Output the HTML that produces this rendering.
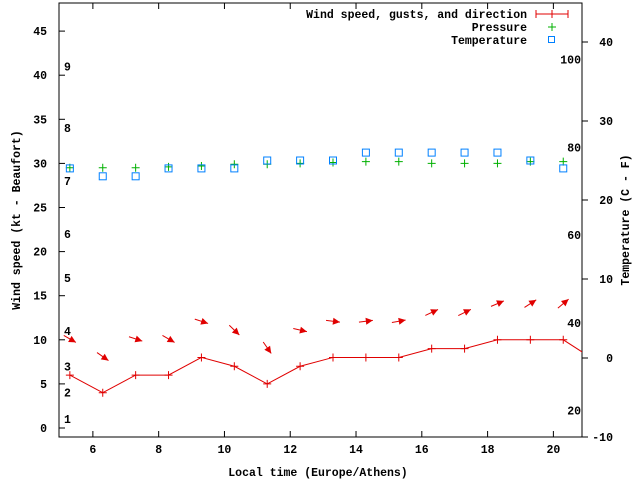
<!DOCTYPE html>
<html><head><meta charset="utf-8"><style>
body{margin:0;background:#fff}
svg{display:block}
text{font-family:"Liberation Mono",monospace;font-size:11.5px;font-weight:bold;fill:#000}
</style></head><body>
<svg id="chart" width="640" height="480" xmlns="http://www.w3.org/2000/svg">
<rect x="0" y="0" width="640" height="480" fill="#fff"/>
<g id="axes"></g>
<g id="marks"></g>
<g>
<text x="527" y="18" text-anchor="end">Wind speed, gusts, and direction</text>
<g stroke="#e00000" stroke-width="1"><line x1="536" y1="14" x2="568" y2="14"/><line x1="536" y1="10" x2="536" y2="18"/><line x1="568" y1="10" x2="568" y2="18"/><line x1="552" y1="10" x2="552" y2="18"/></g>
<text x="527" y="31" text-anchor="end">Pressure</text>
<g stroke="#00b000"><line x1="548" y1="27" x2="556" y2="27"/><line x1="552" y1="23" x2="552" y2="31"/></g>
<text x="527" y="44" text-anchor="end">Temperature</text>
<rect x="548.5" y="36.5" width="6" height="6" fill="none" stroke="#0080ff"/>
</g>
<text transform="translate(20,220) rotate(-90)" text-anchor="middle">Wind speed (kt - Beaufort)</text>
<text transform="translate(629,220) rotate(-90)" text-anchor="middle">Temperature (C - F)</text>
<text x="318" y="476" text-anchor="middle">Local time (Europe/Athens)</text>
</svg>
<script>
const hours=[5.3,6.3,7.3,8.3,9.3,10.3,11.3,12.3,13.3,14.3,15.3,16.3,17.3,18.3,19.3,20.3,21.3];
const windSpeed=[6,4,6,6,8,7,5,7,8,8,8,9,9,10,10,10,7.6];
const windDir=[300,305,288,300,288,314,325,283,277,263,260,245,244,247,237,230];
const pressure=[29.5,29.5,29.5,29.6,29.7,29.9,29.9,30.0,30.1,30.2,30.2,30.0,30.0,30.0,30.2,30.2];
const tempC=[24,23,23,24,24,24,25,25,25,26,26,26,26,26,25,24];
const xTicks=[6,8,10,12,14,16,18,20];
const yTicks=[0,5,10,15,20,25,30,35,40,45];
const y2Ticks=[-10,0,10,20,30,40];
const beaufort=[1,2,3,4,5,6,7,8,9];
const beaufortKt=[1.0,4,7,11,17,22,28,34,41];
const fTicks=[20,40,60,80,100];

const L=59,R=582,T=3,B=437;
const X=h=>L+(h-4.97)*(R-L)/(20.87-4.97);
const Y=v=>428-v*8.82;
const Y2=c=>358-c*7.9;
const NS="http://www.w3.org/2000/svg";
const ax=document.getElementById('axes'),mk=document.getElementById('marks');
function el(p,t,a){const e=document.createElementNS(NS,t);for(const k in a)e.setAttribute(k,a[k]);p.appendChild(e);return e;}

const frame=el(ax,'rect',{x:L,y:T,width:R-L,height:B-T,fill:'none',stroke:'#000'});


xTicks.forEach(h=>{
  const x=X(h);
  const t=el(ax,'path',{d:`M${x},${B}v-6M${x},${T}v6`,stroke:'#000'});
  
  
  const l=el(ax,'text',{x:x,y:B+16,'text-anchor':'middle'});l.textContent=h;
  
  
});
yTicks.forEach(v=>{
  const y=Y(v);
  const t=el(ax,'path',{d:`M${L},${y}h6`,stroke:'#000'});
  
  
  const l=el(ax,'text',{x:L-12,y:y+4,'text-anchor':'end'});l.textContent=v;
  
  
});
y2Ticks.forEach(c=>{
  const y=Y2(c);
  const t=el(ax,'path',{d:`M${R},${y}h6`,stroke:'#000'});
  
  
  const l=el(ax,'text',{x:613,y:y+4,'text-anchor':'end'});l.textContent=c;
  
  
});
beaufort.forEach((b,i)=>{
  const l=el(ax,'text',{x:64,y:Y(beaufortKt[i])+4});l.textContent=b;
  
  
});
fTicks.forEach(f=>{
  const l=el(ax,'text',{x:581,y:Y2((f-32)*5/9)+4,'text-anchor':'end'});l.textContent=f;
  
  
});

const clip=el(mk,'clipPath',{id:'pc'});el(clip,'rect',{x:L,y:T,width:R-L,height:B-T});
const g=el(mk,'g',{'clip-path':'url(#pc)'});
const line=el(g,'polyline',{points:hours.map((h,i)=>X(h)+','+Y(windSpeed[i])).join(' '),fill:'none',stroke:'#e00000'});


hours.forEach((h,i)=>{
  const x=X(h),y=Y(windSpeed[i]);
  const p=el(g,'path',{d:`M${x-4},${y}h8M${x},${y-4}v8`,stroke:'#e00000'});
  
  
});
windDir.forEach((d,i)=>{
  const cx=X(hours[i]),cy=Y(windSpeed[i]+4.1);
  const a=(d+180)*Math.PI/180,ux=Math.sin(a),uy=-Math.cos(a),len=14;
  const x1=cx-ux*len/2,y1=cy-uy*len/2,x2=cx+ux*len/2,y2=cy+uy*len/2;
  const px=-uy,py=ux,bx=x2-ux*7,by=y2-uy*7;
  const gr=el(g,'g',{});
  
  
  el(gr,'line',{x1:x1,y1:y1,x2:x2,y2:y2,stroke:'#e00000'});
  el(gr,'polygon',{points:`${x2},${y2} ${bx+px*3.5},${by+py*3.5} ${bx-px*3.5},${by-py*3.5}`,fill:'#e00000'});
});
pressure.forEach((p,i)=>{
  const x=X(hours[i]),y=Y(p);
  const e=el(g,'path',{d:`M${x-4},${y}h8M${x},${y-4}v8`,stroke:'#00b000'});
  
  
});
tempC.forEach((c,i)=>{
  const x=X(hours[i]),y=Y2(c);
  const e=el(g,'rect',{x:x-3.5,y:y-3.5,width:7,height:7,fill:'none',stroke:'#0080ff'});
  
  
});
</script>
</body></html>
